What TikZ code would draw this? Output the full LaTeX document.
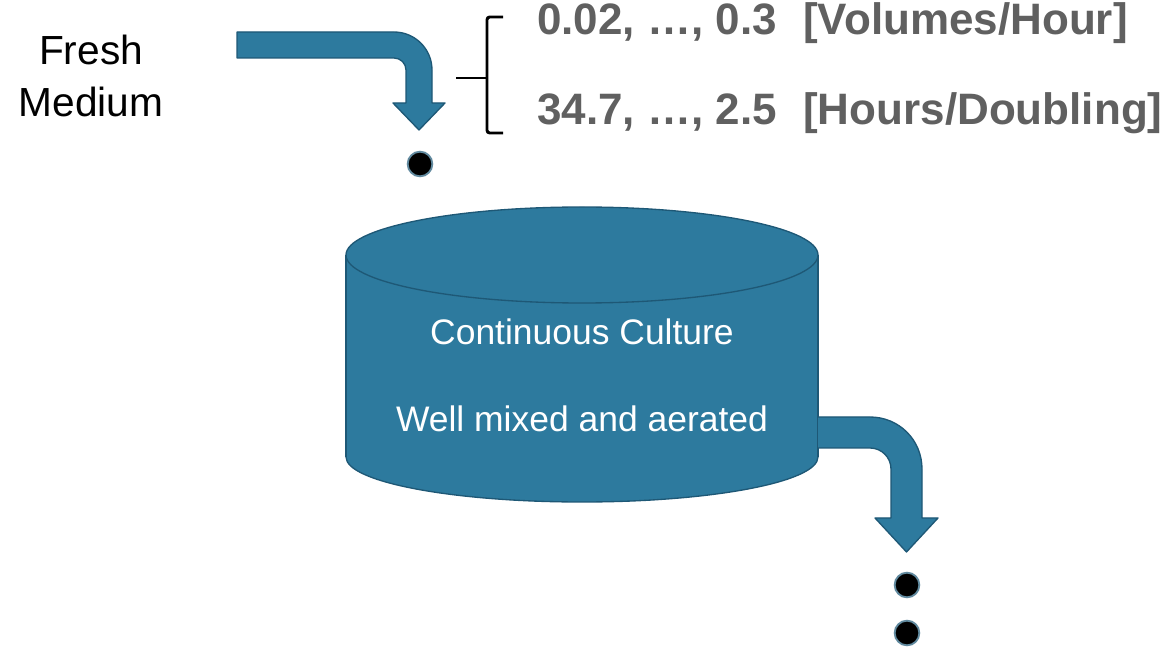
\documentclass[tikz,border=0pt]{standalone}
\usepackage{fontspec}
\setmainfont{Liberation Sans}
\usepackage{xcolor}
\usepackage{tikz}
\usetikzlibrary{positioning, calc}

\definecolor{tankblue}{RGB}{45,122,158}
\definecolor{tankedge}{RGB}{30,88,118}
\definecolor{labelgray}{RGB}{96,96,96}

\begin{document}
\begin{tikzpicture}[
    x=0.75pt, y=-0.75pt,
    blockarrow/.style={fill=tankblue, draw=tankedge, line width=1pt, line join=round},
    tank/.style={fill=tankblue, draw=tankedge, line width=1pt},
    droplet/.style={circle, fill=black, draw=tankedge!70, line width=1.4pt,
                    minimum size=18.5pt, inner sep=0pt},
    medium/.style={inner sep=0pt, anchor=base, font=\fontsize{30.5}{39}\selectfont},
    ratelabel/.style={inner sep=0pt, anchor=base west, text=labelgray,
                      font=\fontsize{33}{40}\selectfont\bfseries},
    tanktext/.style={inner sep=0pt, anchor=base, text=white,
                     font=\fontsize{26.6}{32}\selectfont},
    brace/.style={line width=2.2pt, rounded corners=2pt}
  ]
  \useasboundingbox (0,0) rectangle (1168,648);

  % inflow
  \node (fresh) [medium] at (91,65)  {Fresh};
  \node (med)   [medium] at (91,117) {Medium};
  \path [blockarrow] (237,32) -- (394,32)
        .. controls (415,32) and (432,49) .. (432,70)
        -- (432,103) -- (445,103) -- (419,130) -- (393,103) -- (406,103) -- (406,70)
        .. controls (406,63.4) and (400.6,58) .. (394,58)
        -- (237,58) -- cycle;
  \node (drop1) [droplet] at (420,164) {};

  % dilution rates
  \node (rate)   [ratelabel] at (537,35)  {0.02, …, 0.3\hspace{0.6em}[Volumes/Hour]};
  \node (double) [ratelabel] at (537,125) {34.7, …, 2.5\hspace{0.6em}[Hours/Doubling]};
  \coordinate (bmid) at (456,78);
  \coordinate (btop) at (503,17);
  \coordinate (bbot) at (503,133);
  \draw [brace] (bmid) -- (487,78);
  \draw [brace] (btop) -- (487,17) -- (487,133) -- (bbot);

  % vessel
  \fill [tankblue] (346,255) rectangle (818,457);
  \draw [tank] (582,457) ellipse [x radius=236, y radius=45];
  \fill [tankblue] (346,255) rectangle (818,457);
  \draw [tank] (346,255) -- (346,457) (818,255) -- (818,457);
  \draw [tank] (582,255) ellipse [x radius=236, y radius=48];
  \node (cult)  [tanktext] at (582,345) {Continuous Culture};
  \node (mixed) [tanktext] at (582,432) {Well mixed and aerated};

  % outflow
  \path [blockarrow] (818,417) -- (870,417)
        .. controls (899,417) and (922,440) .. (922,469)
        -- (922,518) -- (938,518) -- (906.5,552) -- (875,518) -- (891,518) -- (891,469)
        .. controls (891,457.4) and (881.6,448) .. (870,448)
        -- (818,448);
  \node (drop2) [droplet] at (907,585) {};
  \node (drop3) [droplet] at (907,633) {};
\end{tikzpicture}
\end{document}
